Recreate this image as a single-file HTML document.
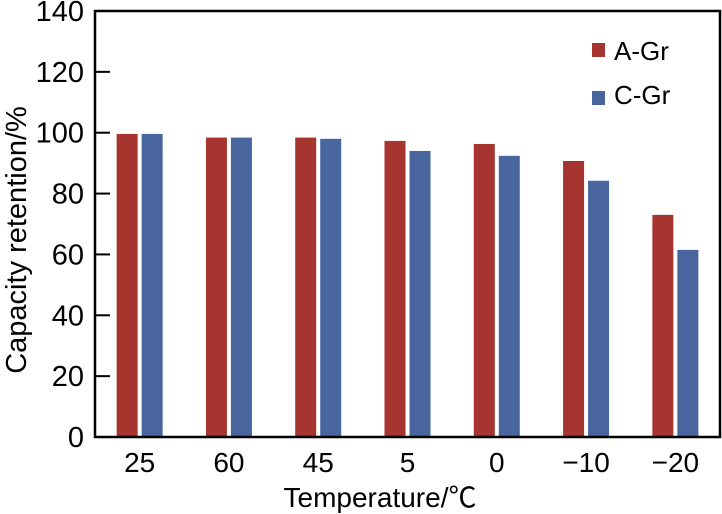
<!DOCTYPE html>
<html><head><meta charset="utf-8"><style>
body{margin:0;background:#fff}
svg{display:block;font-family:"Liberation Sans","Noto Sans CJK SC",sans-serif}
</style></head><body>
<svg id="c" width="722" height="514">
<g id="bars"></g>
<g id="axes"></g>
<text x="380" y="507" font-size="28" text-anchor="middle">Temperature/℃</text>
<text transform="translate(26,240) rotate(-90)" font-size="29" text-anchor="middle">Capacity retention/%</text>
<g>
<rect x="592" y="43" width="13" height="14" fill="#a6342f"/>
<text x="614" y="60" font-size="26">A-Gr</text>
<rect x="592" y="91" width="13" height="14" fill="#48659e"/>
<text x="614" y="104" font-size="26">C-Gr</text>
</g>
</svg>
<script>
const categories=["25","60","45","5","0","\u221210","\u221220"];
const seriesA=[99.6,98.4,98.4,97.3,96.3,90.7,73];
const seriesC=[99.6,98.4,98,94,92.4,84.2,61.5];
const yTicks=[0,20,40,60,80,100,120,140];
const NS="http://www.w3.org/2000/svg";
const L=95,R=720,T=11,B=437,YMAX=140;
const step=(R-L)/categories.length;
const y=v=>B-(v/YMAX)*(B-T);
const cx=i=>L+step*(i+0.5);
function mk(tag,attrs,parent){const e=document.createElementNS(NS,tag);for(const k in attrs)e.setAttribute(k,attrs[k]);parent.appendChild(e);return e;}
const bars=document.getElementById('bars'),axes=document.getElementById('axes');
categories.forEach((c,i)=>{
 const a=mk('rect',{x:cx(i)-23,y:y(seriesA[i]),width:21,height:B-y(seriesA[i]),fill:'#a6342f'},bars);
 
 
 const b=mk('rect',{x:cx(i)+2,y:y(seriesC[i]),width:21,height:B-y(seriesC[i]),fill:'#48659e'},bars);
 
 
 const t=mk('text',{x:cx(i),y:472,'font-size':28,'text-anchor':'middle'},axes);
 t.textContent=c;
 
 
});
yTicks.forEach(v=>{
 const l=mk('line',{x1:L,x2:L+15,y1:y(v),y2:y(v),stroke:'#000','stroke-width':2},axes);
 
 
 const t=mk('text',{x:84,y:y(v)+10,'font-size':29,'text-anchor':'end'},axes);
 t.textContent=v;
 
 
});
const f=mk('rect',{x:L,y:T,width:R-L,height:B-T,fill:'none',stroke:'#000','stroke-width':2.5},axes);


</script>
</body></html>
